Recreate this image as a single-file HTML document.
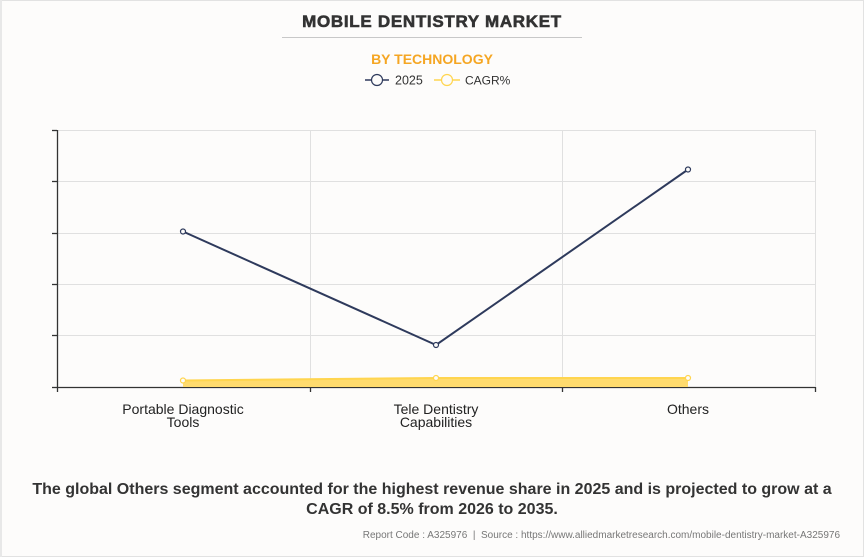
<!DOCTYPE html>
<html><head><meta charset="utf-8"><style>
html,body{margin:0;padding:0;background:#fdfcfb;}
body{width:864px;height:557px;overflow:hidden;}
svg{display:block;}
</style></head><body>
<svg width="864" height="557" viewBox="0 0 864 557" xmlns="http://www.w3.org/2000/svg" font-family="Liberation Sans, Arial, sans-serif">
<rect x="0.5" y="0.5" width="863" height="556" fill="#fdfcfb" stroke="#e2e2e2" stroke-width="1"/>
<rect x="0" y="0" width="2" height="557" fill="#e8e8e8"/>
<text x="432" y="27" text-anchor="middle" font-size="17" font-weight="bold" fill="#333" stroke="#333" stroke-width="0.6" letter-spacing="0.7">MOBILE DENTISTRY MARKET</text>
<line x1="282" y1="37.5" x2="582" y2="37.5" stroke="#c8c8c8" stroke-width="1"/>
<text x="432" y="64" text-anchor="middle" font-size="14" font-weight="bold" fill="#f5a623">BY TECHNOLOGY</text>
<!-- legend -->
<line x1="365" y1="80" x2="389" y2="80" stroke="#2e3a5c" stroke-width="1.5"/>
<circle cx="377" cy="80" r="5.5" fill="#fdfcfb" stroke="#2e3a5c" stroke-width="1.2"/>
<text x="395" y="84.5" font-size="12.5" fill="#333">2025</text>
<line x1="434" y1="80" x2="460" y2="80" stroke="#ffd54f" stroke-width="1.5"/>
<circle cx="447" cy="80" r="5.5" fill="#fdfcfb" stroke="#ffd54f" stroke-width="1.2"/>
<text x="465" y="84.5" font-size="12" fill="#333">CAGR%</text>
<!-- grid -->
<g stroke="#e0e0e0" stroke-width="1">
<line x1="57" y1="130.5" x2="815" y2="130.5"/>
<line x1="57" y1="181.5" x2="815" y2="181.5"/>
<line x1="57" y1="233.5" x2="815" y2="233.5"/>
<line x1="57" y1="284.5" x2="815" y2="284.5"/>
<line x1="57" y1="335.5" x2="815" y2="335.5"/>
<line x1="310.5" y1="130" x2="310.5" y2="387"/>
<line x1="562.5" y1="130" x2="562.5" y2="387"/>
<line x1="815.5" y1="130" x2="815.5" y2="387"/>
</g>
<!-- axes -->
<g stroke="#333" stroke-width="1.3">
<line x1="57.5" y1="130" x2="57.5" y2="392"/>
<line x1="57" y1="387.5" x2="815" y2="387.5"/>
<line x1="52" y1="130.5" x2="57" y2="130.5"/>
<line x1="52" y1="181.5" x2="57" y2="181.5"/>
<line x1="52" y1="233.5" x2="57" y2="233.5"/>
<line x1="52" y1="284.5" x2="57" y2="284.5"/>
<line x1="52" y1="335.5" x2="57" y2="335.5"/>
<line x1="52" y1="387.5" x2="57" y2="387.5"/>
<line x1="310.5" y1="387" x2="310.5" y2="392"/>
<line x1="562.5" y1="387" x2="562.5" y2="392"/>
<line x1="815.5" y1="387" x2="815.5" y2="392"/>
</g>
<!-- CAGR area -->
<polygon points="183,380.5 436,378 688,378 688,387 183,387" fill="#ffdb6e"/>
<polyline points="183,380.5 436,378 688,378" fill="none" stroke="#ffd54f" stroke-width="2"/>
<circle cx="183" cy="380.5" r="2.5" fill="#fdfcfb" stroke="#ffd54f" stroke-width="1.2"/>
<circle cx="436" cy="378" r="2.5" fill="#fdfcfb" stroke="#ffd54f" stroke-width="1.2"/>
<circle cx="688" cy="378" r="2.5" fill="#fdfcfb" stroke="#ffd54f" stroke-width="1.2"/>
<!-- 2025 line -->
<polyline points="183,231.5 436,345 688,169.5" fill="none" stroke="#2e3a5c" stroke-width="2"/>
<circle cx="183" cy="231.5" r="2.5" fill="#fdfcfb" stroke="#2e3a5c" stroke-width="1.2"/>
<circle cx="436" cy="345" r="2.5" fill="#fdfcfb" stroke="#2e3a5c" stroke-width="1.2"/>
<circle cx="688" cy="169.5" r="2.5" fill="#fdfcfb" stroke="#2e3a5c" stroke-width="1.2"/>
<!-- x labels -->
<g font-size="14" fill="#222" text-anchor="middle">
<text x="183" y="414">Portable Diagnostic</text>
<text x="183" y="427">Tools</text>
<text x="436" y="414">Tele Dentistry</text>
<text x="436" y="427">Capabilities</text>
<text x="688" y="414">Others</text>
</g>
<!-- bottom text -->
<g font-size="16" font-weight="bold" fill="#333" text-anchor="middle">
<text x="432" y="494">The global Others segment accounted for the highest revenue share in 2025 and is projected to grow at a</text>
<text x="432" y="514">CAGR of 8.5% from 2026 to 2035.</text>
</g>
<text x="840" y="538" text-anchor="end" font-size="10" fill="#777">Report Code : A325976&#160; |&#160; Source : https://www.alliedmarketresearch.com/mobile-dentistry-market-A325976</text>
</svg>
</body></html>
